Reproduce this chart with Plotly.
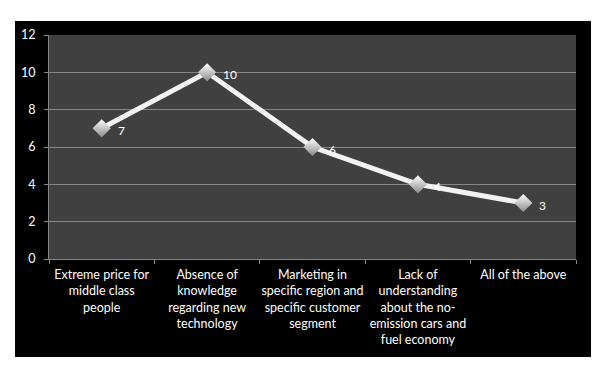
import plotly.graph_objects as go

categories = [
    "Extreme price for<br>middle class<br>people",
    "Absence of<br>knowledge<br>regarding new<br>technology",
    "Marketing in<br>specific region and<br>specific customer<br>segment",
    "Lack of<br>understanding<br>about the no-<br>emission cars and<br>fuel economy",
    "All of the above",
]
values = [7, 10, 6, 4, 3]
y_ticks = [0, 2, 4, 6, 8, 10, 12]

# page body has an 8px margin; the figure is sized/offset to compensate
OFF = 8
W, H = 611 - OFF, 370 - OFF
L, R, T, B = 49 - OFF, 611 - 576, 35 - OFF, 370 - 259
pw, ph = W - L - R, H - T - B

def px_x(x):
    return (x - OFF - L) / pw

def px_y(y):
    return (H - B - (y - OFF)) / ph

FONT = "Lato"

fig = go.Figure()
fig.add_trace(go.Scatter(
    x=categories, y=values,
    mode="lines+markers",
    line=dict(color="#f2f2f2", width=5),
    marker=dict(symbol="diamond", size=14, color="#ffffff",
                gradient=dict(type="vertical", color="#8a8a8a"),
                line=dict(width=0)),
    cliponaxis=False,
    hoverinfo="skip",
))
for c, v in zip(categories, values):
    fig.add_annotation(x=c, y=v, text=str(v), showarrow=False,
                       xanchor="left", yanchor="middle", xshift=14, yshift=-2,
                       font=dict(color="#ffffff", size=12, family=FONT))

fig.add_shape(type="rect", xref="paper", yref="paper",
              x0=px_x(15), x1=px_x(591), y0=px_y(357), y1=px_y(21),
              fillcolor="#000000", line=dict(width=0), layer="below")
fig.add_shape(type="rect", xref="paper", yref="paper",
              x0=0, x1=1, y0=0, y1=1,
              fillcolor="#404040", line=dict(width=0), layer="below")

fig.update_layout(
    width=W, height=H,
    margin=dict(l=L, r=R, t=T, b=B, autoexpand=False),
    paper_bgcolor="#ffffff",
    plot_bgcolor="rgba(0,0,0,0)",
    showlegend=False,
    font=dict(family=FONT, color="#ffffff", size=12),
)
fig.update_xaxes(
    automargin=False, range=[-0.5, len(categories) - 0.5], tickangle=0,
    showgrid=False, showline=True, linecolor="#868686", linewidth=1,
    ticks="outside", ticklen=4, tickcolor="#868686", tickson="boundaries",
    ticklabelstandoff=4,
    tickfont=dict(size=12.5, color="#ffffff", family=FONT),
)
fig.update_yaxes(
    automargin=False,
    range=[0, 12], tickvals=y_ticks, showgrid=True, gridcolor="#868686", gridwidth=1,
    showline=True, linecolor="#868686", linewidth=1, zeroline=False,
    ticks="outside", ticklen=4, tickcolor="#868686", ticklabelstandoff=6,
    tickfont=dict(size=12.5, color="#ffffff", family=FONT),
)

fig.write_html("out.html")
